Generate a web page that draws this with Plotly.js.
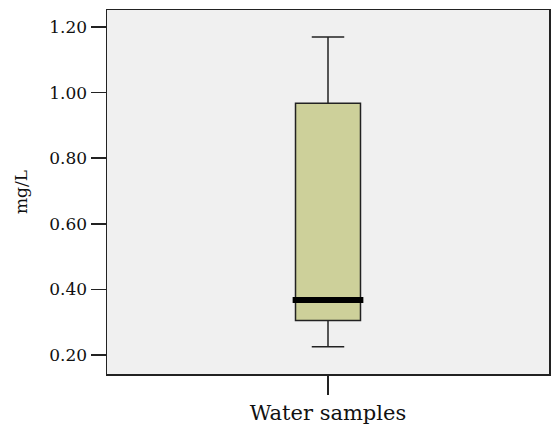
<!DOCTYPE html>
<html>
<head>
<meta charset="utf-8">
<script src="https://cdn.plot.ly/plotly-3.0.1.min.js"></script>
<style>html,body{margin:0;padding:0;background:#fff;}#chart{width:551px;height:426px;}</style>
</head>
<body>
<div id="chart"></div>
<script>
const categories = ["Water samples"];
const lowerWhisker = [0.225];
const q1 = [0.305];
const median = [0.368];
const q3 = [0.968];
const upperWhisker = [1.17];
const yTicks = [0.2, 0.4, 0.6, 0.8, 1.0, 1.2];
const yTickLabels = ["0.20", "0.40", "0.60", "0.80", "1.00", "1.20"];

const font = "DejaVu Serif, serif";

const trace = {
  type: "box",
  x: categories,
  q1: q1, median: median, q3: q3,
  lowerfence: lowerWhisker, upperfence: upperWhisker,
  fillcolor: "rgb(205,208,154)",
  line: {color: "#222", width: 1.5},
  width: 0.147,
  whiskerwidth: 0.5,
  boxpoints: false,
  hoverinfo: "skip",
  showlegend: false
};

const layout = {
  width: 551, height: 426,
  margin: {l: 107, r: 2, t: 10, b: 52},
  paper_bgcolor: "#fff",
  plot_bgcolor: "#f0f0f0",
  font: {family: font, color: "#111"},
  showlegend: false,
  xaxis: {
    type: "category",
    range: [-0.5, 0.5],
    showline: true, mirror: true, linecolor: "#222", linewidth: 1.5,
    ticks: "outside", ticklen: 19, tickcolor: "#222", tickwidth: 1.5,
    tickfont: {size: 21, family: font},
    showgrid: false, zeroline: false
  },
  yaxis: {
    range: [0.142, 1.252],
    tickvals: yTicks, ticktext: yTickLabels,
    showline: true, mirror: true, linecolor: "#222", linewidth: 1.5,
    ticks: "outside", ticklen: 15, tickcolor: "#222", tickwidth: 1.5,
    tickfont: {size: 17, family: font},
    showgrid: false, zeroline: false,
    title: {text: "mg/L", font: {size: 17, family: font}, standoff: 17}
  },
  shapes: [{
    type: "line", xref: "x", yref: "y",
    x0: -0.08, x1: 0.08, y0: median[0], y1: median[0],
    line: {color: "#000", width: 6}
  }]
};

Plotly.newPlot("chart", [trace], layout, {displayModeBar: false, staticPlot: true});
</script>
</body>
</html>
